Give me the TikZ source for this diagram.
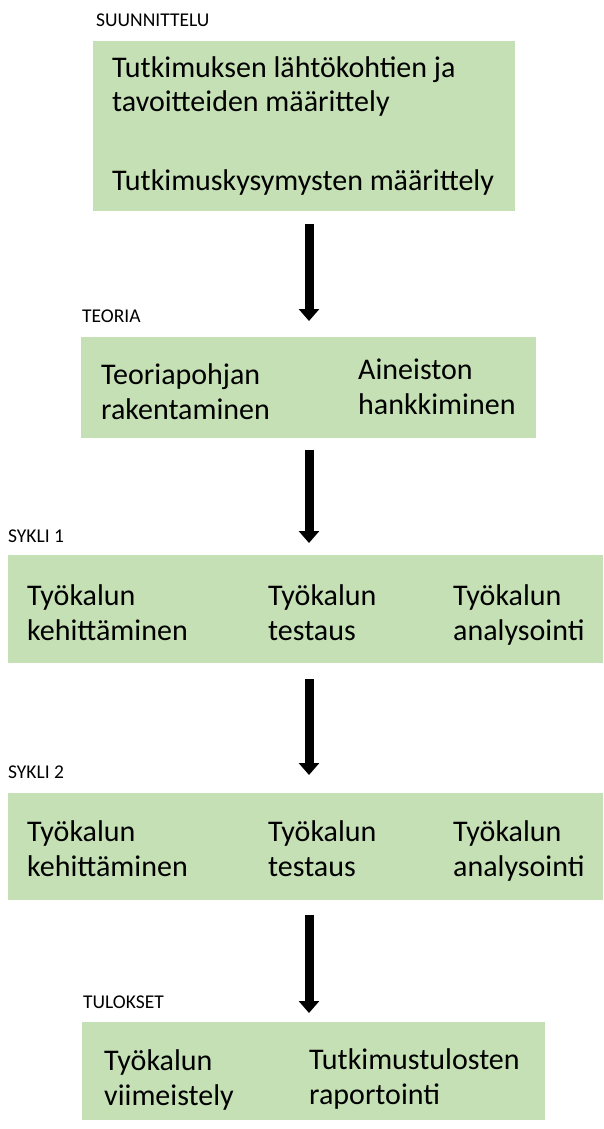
\documentclass[tikz,border=0pt]{standalone}
\usepackage{fontspec}
\setmainfont{Carlito}
\usetikzlibrary{arrows.meta}
\definecolor{phasegreen}{HTML}{C5E0B4}
\tikzset{
 phasebox/.style={fill=phasegreen,draw=none,inner sep=0,anchor=north west},
 stagelabel/.style={anchor=base west,inner sep=0,font=\fontsize{19.5}{22}\selectfont},
 itemtext/.style={anchor=base west,inner sep=0,align=left,font=\fontsize{30}{34.5}\selectfont},
 flow/.style={line width=9pt,-{Triangle[width=20pt,length=12pt]}}
}
\begin{document}
\begin{tikzpicture}[x=1pt,y=-1pt]
 \useasboundingbox (0,0) rectangle (603,1129);
 \coordinate (axis) at (309,0);

 \node[phasebox,minimum width=422pt,minimum height=170pt] (plan) at (93,41) {};
 \node[phasebox,minimum width=455pt,minimum height=101pt] (theory) at (81,337) {};
 \node[phasebox,minimum width=595pt,minimum height=108pt] (cycleone) at (8,555) {};
 \node[phasebox,minimum width=595pt,minimum height=107pt] (cycletwo) at (8,793) {};
 \node[phasebox,minimum width=463pt,minimum height=98pt] (results) at (82,1022) {};

 \node[stagelabel] (planlabel) at (96,27) {SUUNNITTELU};
 \node[stagelabel] (theorylabel) at (82,322) {TEORIA};
 \node[stagelabel] (cycleonelabel) at (8,542) {SYKLI 1};
 \node[stagelabel] (cycletwolabel) at (8,778) {SYKLI 2};
 \node[stagelabel] (resultslabel) at (83,1008) {TULOKSET};

 \node[itemtext] (aims) at (112,190) {Tutkimuksen lähtökohtien ja\\tavoitteiden määrittely\\[44pt]Tutkimuskysymysten määrittely};
 \node[itemtext] (base) at (101,419) {Teoriapohjan\\rakentaminen};
 \node[itemtext] (data) at (358,414) {Aineiston\\hankkiminen};
 \node[itemtext] (devone) at (27,640) {Työkalun\\kehittäminen};
 \node[itemtext] (testone) at (268,640) {Työkalun\\testaus};
 \node[itemtext] (anaone) at (453,640) {Työkalun\\analysointi};
 \node[itemtext] (devtwo) at (27,876) {Työkalun\\kehittäminen};
 \node[itemtext] (testtwo) at (268,876) {Työkalun\\testaus};
 \node[itemtext] (anatwo) at (453,876) {Työkalun\\analysointi};
 \node[itemtext] (finish) at (104,1105) {Työkalun\\viimeistely};
 \node[itemtext] (report) at (309,1104) {Tutkimustulosten\\raportointi};

 \draw[flow,shorten <=13pt,shorten >=16pt] (plan.south -| axis) -- (theory.north -| axis);
 \draw[flow,shorten <=12pt,shorten >=12pt] (theory.south -| axis) -- (cycleone.north -| axis);
 \draw[flow,shorten <=16pt,shorten >=18pt] (cycleone.south -| axis) -- (cycletwo.north -| axis);
 \draw[flow,shorten <=15pt,shorten >=9pt] (cycletwo.south -| axis) -- (results.north -| axis);
\end{tikzpicture}
\end{document}
